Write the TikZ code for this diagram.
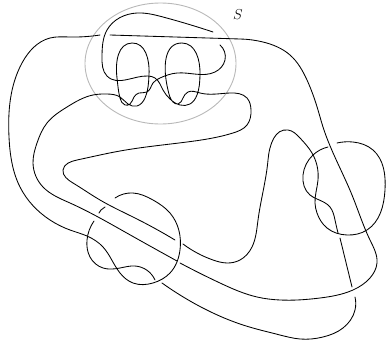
\documentclass[tikz,border=0pt]{standalone}
\usepackage{fontspec}
\usetikzlibrary{hobby}
\tikzset{strand/.style={draw=black,line width=0.85pt,line cap=round,line join=round,use Hobby shortcut},
 sphere/.style={draw=black!28,line width=0.9pt}}
\begin{document}
\begin{tikzpicture}[x=1pt,y=-1pt]
\useasboundingbox (0,0) rectangle (386,343);
\draw[sphere] (160.5,63.5) ellipse [x radius=75.5, y radius=60.5];
\node[inner sep=0pt] (s) at (238,15) {\fontsize{15}{15}\selectfont $S$};
% outer strand, left side and left circle
\draw[strand] (100,35) .. (70,37) .. (50,38) .. (22,63) .. (9,137) .. (20,187) .. (50,220) .. (70,230) .. (87,236) .. (103,247) .. (120,273) .. (133,283) .. (153,283) .. (170,273) .. (180,250) .. (170,213) .. (153,200) .. (133,193) .. (115,198);
\draw[strand] (105,207) .. (101,210) .. (99,213);
\draw[strand] (94,221) .. (87,240) .. (90,257) .. (103,268) .. (120,268) .. (135,266) .. (155,280);
% top line, right side, middle band
\draw[strand] (110,35) -- (240,39) .. (263,42) .. (290,55) .. (307,80) .. (318,110) .. (323,127) .. (352,195) .. (370,240) .. (377,263) .. (370,278) .. (353,290) .. (320,298) .. (280,300) .. (257,297) .. (220,283) .. (180,263);
% second strand through left loop
\draw[strand] (177,261) .. (125,232) .. (70,203) .. (43,187) .. (33,163) .. (37,143) .. (47,123) .. (67,107) .. (93,95) .. (107,94) .. (120,97) .. (128,104) .. (137,106) .. (145,98) .. (149,75) .. (132,43) .. (117,78) .. (120,98) .. (125,105) .. (130,104) .. (134,97) .. (139,93) .. (147,92) .. (153,83) .. (160,78) .. (177,73) .. (215,72) .. (225,60) .. (220,45);
% third strand through right loop
\draw[strand] (175,240) .. (135,218) .. (100,200) .. (73,183) .. (63,170) .. (77,160) .. (120,151) .. (187,142) .. (233,133) .. (247,125) .. (251,110) .. (247,98) .. (230,93) .. (200,93) .. (188,92) .. (183,98) .. (178,104) .. (173,102) .. (168,90) .. (182,43) .. (200,75) .. (197,95) .. (190,104) .. (180,105) .. (170,99) .. (163,90) .. (155,78) .. (148,76) .. (107,76) .. (102,57) .. (107,30) .. (137,13) .. (163,17) .. (213,32);
% lower band continuing on the right of the left circle
\draw[strand] (183,244) .. (213,260) .. (227,263) .. (240,260) .. (252,247) .. (258,220) .. (268,160) .. (288,130) .. (300,138) .. (312,153) .. (318,180) .. (315,203) .. (317,213) .. (327,228) .. (347,235) .. (367,230) .. (385,190) .. (373,150) .. (353,142) .. (337,143);
\draw[strand] (328,147) .. (313,155) .. (303,175) .. (310,195) .. (317,199) .. (330,207) .. (335,220) .. (338,233);
\draw[strand] (340,238) -- (352,287);
\draw[strand] (162,283) .. (180,295) .. (213,313) .. (243,325) .. (280,335) .. (300,339) .. (323,337) .. (343,328) .. (355,310) .. (355,297);
\end{tikzpicture}
\end{document}
